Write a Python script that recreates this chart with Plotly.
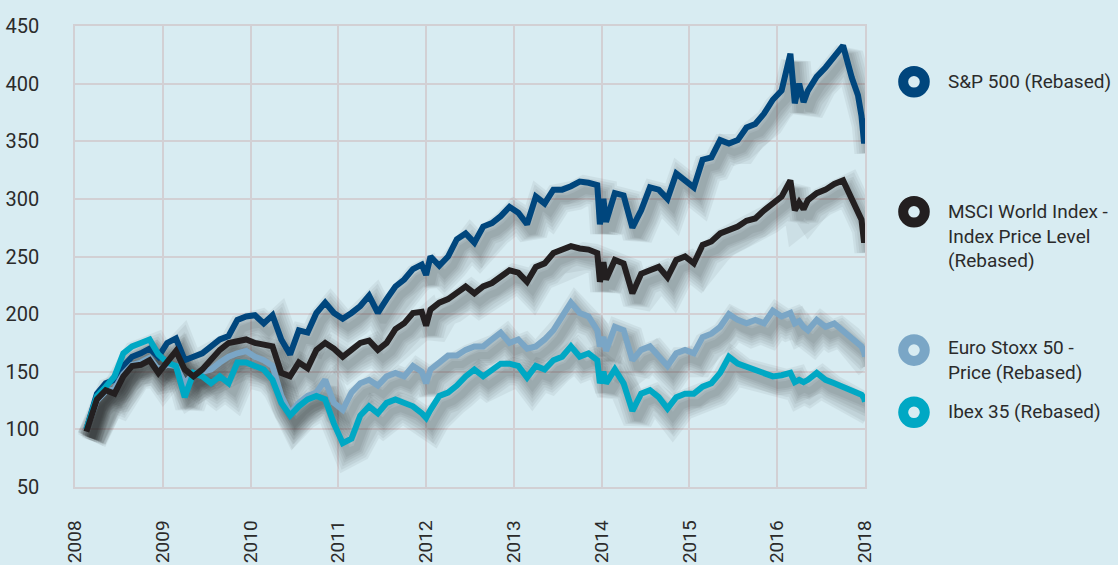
import plotly.graph_objects as go

# x positions in axis-year units (the axis labels are shown as printed on the chart)
x = [2008.13, 2008.25, 2008.35, 2008.45, 2008.55, 2008.65, 2008.75, 2008.85, 2008.95,
     2009.05, 2009.15, 2009.25, 2009.35, 2009.45, 2009.55, 2009.65, 2009.75, 2009.85, 2009.95,
     2010.05, 2010.15, 2010.25, 2010.35, 2010.45, 2010.55, 2010.65, 2010.75, 2010.85, 2010.95,
     2011.05, 2011.15, 2011.25, 2011.35, 2011.45, 2011.55, 2011.65, 2011.75, 2011.85, 2011.95, 2012.0,
     2012.05, 2012.15, 2012.25, 2012.35, 2012.45, 2012.55, 2012.65, 2012.75, 2012.85, 2012.95,
     2013.05, 2013.15, 2013.25, 2013.35, 2013.45, 2013.55, 2013.65, 2013.75, 2013.85, 2013.95, 2013.98,
     2014.02, 2014.05, 2014.15, 2014.25, 2014.35, 2014.45, 2014.55, 2014.65, 2014.75, 2014.85, 2014.95,
     2015.05, 2015.15, 2015.25, 2015.35, 2015.45, 2015.55, 2015.65, 2015.75, 2015.85, 2015.95,
     2016.05, 2016.15, 2016.2, 2016.25, 2016.3, 2016.35, 2016.45, 2016.55, 2016.65, 2016.75, 2016.85,
     2016.92, 2016.96, 2016.99, 2017.0]

sp500 = [100, 131, 140, 143, 155, 163, 166, 170, 163,
         175, 179, 160, 163, 166, 172, 178, 181, 195, 198,
         199, 192, 199, 178, 165, 186, 184, 201, 210, 201,
         196, 201, 207, 216, 201, 213, 224, 230, 239, 243, 234,
         250, 242, 250, 265, 270, 262, 276, 279, 285, 293,
         288, 278, 302, 296, 308, 308, 311, 315, 314, 312, 278,
         300, 280, 305, 303, 275, 290, 310, 308, 300, 322, 316,
         310, 334, 336, 351, 348, 351, 362, 365, 374, 386,
         394, 426, 383, 400, 384, 394, 406, 414, 423, 433, 405, 390, 372, 348, 370]

msci = [98, 126, 134, 131, 146, 155, 156, 160, 149,
        159, 168, 152, 146, 152, 160, 169, 175, 176, 178,
        175, 173, 172, 149, 146, 158, 153, 169, 175, 170,
        163, 169, 175, 177, 169, 175, 187, 192, 201, 202, 190,
        204, 210, 213, 218, 224, 218, 224, 227, 233, 238,
        236, 228, 241, 244, 253, 256, 259, 257, 256, 253, 228,
        245, 230, 247, 244, 218, 235, 238, 241, 232, 247, 250,
        244, 260, 263, 270, 273, 276, 281, 283, 290, 296,
        302, 316, 290, 297, 291, 299, 305, 308, 313, 316, 300, 290, 282, 262, 272]

stoxx = [100, 125, 133, 135, 148, 156, 158, 162, 152,
         156, 155, 140, 148, 150, 152, 158, 163, 166, 168,
         163, 160, 155, 129, 114, 123, 129, 132, 143, 123,
         117, 132, 140, 143, 138, 146, 149, 146, 155, 150, 140,
         152, 158, 164, 164, 169, 172, 172, 178, 184, 175,
         178, 170, 172, 178, 186, 198, 210, 201, 198, 186, 172,
         180, 168, 189, 186, 160, 169, 172, 163, 155, 166, 169,
         166, 180, 183, 189, 200, 195, 192, 195, 192, 203,
         198, 201, 192, 194, 189, 186, 195, 189, 192, 186, 180, 176, 172, 167, 163]

ibex = [100, 129, 137, 146, 166, 172, 175, 178, 165,
        158, 155, 128, 149, 146, 140, 146, 140, 158, 158,
        155, 152, 143, 123, 112, 120, 126, 129, 126, 105,
        88, 92, 112, 120, 114, 123, 126, 123, 120, 114, 110,
        117, 129, 132, 138, 146, 152, 146, 152, 157, 157,
        155, 145, 155, 152, 160, 163, 172, 163, 166, 160, 140,
        150, 140, 152, 140, 116, 131, 134, 128, 118, 128, 131,
        131, 137, 140, 149, 163, 157, 154, 151, 149, 146,
        147, 149, 141, 143, 141, 143, 149, 143, 140, 137, 134, 131, 130, 127, 124]

tick_vals = [2008, 2009, 2010, 2011, 2012, 2013, 2014, 2015, 2016, 2017]
tick_text = ["2008", "2009", "2010", "2011", "2012", "2013", "2014", "2015", "2016", "2018"]
y_ticks = [50, 100, 150, 200, 250, 300, 350, 400, 450]

series = [
    ("S&P 500 (Rebased)", sp500, "#00467d"),
    ("Euro Stoxx 50 - Price (Rebased)", stoxx, "#7aa6c6"),
    ("Ibex 35 (Rebased)", ibex, "#00a8c4"),
    ("MSCI World Index - Index Price Level (Rebased)", msci, "#231f20"),
]

BG = "#d8ecf2"
GRID = "#d2d0d4"
FONT = "Roboto, Liberation Sans, sans-serif"
TXT = "#2b2b2b"

fig = go.Figure()

# soft drop shadows (drawn on base axes whose ranges are shifted a few pixels)
for name, vals, col in series:
    for w in [30, 25, 20, 15, 11, 7]:
        fig.add_trace(go.Scatter(x=x, y=vals, mode="lines", xaxis="x", yaxis="y",
                                 line=dict(color="#1a1a1a", width=w),
                                 opacity=0.055, hoverinfo="skip", showlegend=False))

# main lines
for name, vals, col in series:
    fig.add_trace(go.Scatter(x=x, y=vals, mode="lines", xaxis="x2", yaxis="y2", name=name,
                             line=dict(color=col, width=6), showlegend=False))

fig.update_layout(
    width=1118, height=565,
    paper_bgcolor=BG, plot_bgcolor=BG,
    margin=dict(l=75, r=253, t=26, b=78),
    showlegend=False,
    font=dict(family=FONT, color=TXT, size=19),
    xaxis=dict(range=[2008 - 0.06, 2017 - 0.06], visible=False, showgrid=False),
    yaxis=dict(range=[57.8, 457.8], visible=False, showgrid=False),
    xaxis2=dict(overlaying="x", anchor="y2", side="bottom", range=[2008, 2017],
                tickvals=tick_vals, ticktext=tick_text, tickangle=-90,
                showgrid=True, gridcolor=GRID, gridwidth=1.5,
                showline=True, linecolor=GRID, linewidth=1.5, mirror=True,
                zeroline=False, ticks="", ticklabelstandoff=24, automargin=False,
                tickfont=dict(family=FONT, size=19, color=TXT)),
    yaxis2=dict(overlaying="y", anchor="x2", side="left", range=[50, 450],
                tickvals=y_ticks, showgrid=True, gridcolor=GRID, gridwidth=1.5,
                showline=True, linecolor=GRID, linewidth=1.5, mirror=True,
                zeroline=False, ticks="", ticklabelstandoff=30, automargin=False,
                tickfont=dict(family=FONT, size=20, color=TXT)),
)

# custom legend: ring markers + text
legend_items = [
    ("S&P 500 (Rebased)", "#00467d", 0.879, 0.879),
    ("MSCI World Index -<br>Index Price Level<br>(Rebased)", "#231f20", 0.597, 0.545),
    ("Euro Stoxx 50 -<br>Price (Rebased)", "#7aa6c6", 0.297, 0.275),
    ("Ibex 35 (Rebased)", "#00a8c4", 0.162, 0.163),
]
for text, col, yr, yt in legend_items:
    fig.add_shape(type="circle", xref="paper", yref="paper", xsizemode="pixel", ysizemode="pixel",
                  xanchor=1.062, yanchor=yr, x0=-10.8, x1=10.8, y0=-10.8, y1=10.8,
                  line=dict(color=col, width=10), fillcolor="rgba(0,0,0,0)")
    fig.add_annotation(text=text, xref="paper", yref="paper", x=1.103, y=yt,
                       xanchor="left", yanchor="middle", align="left", showarrow=False,
                       font=dict(family=FONT, size=19, color=TXT))

fig.write_html("out.html", config={"displayModeBar": False},
               post_script="document.body.style.margin='0';")
